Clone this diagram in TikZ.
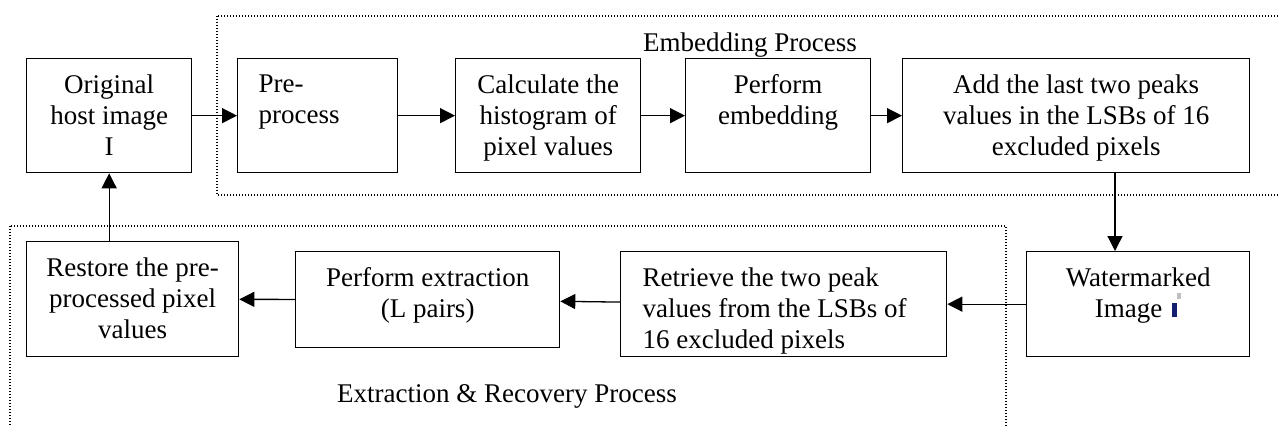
\documentclass[tikz,border=0pt]{standalone}
\usepackage{fontspec}
\setmainfont{Liberation Serif}
\usepackage{xcolor}
\usetikzlibrary{arrows.meta}

\definecolor{imgblue}{RGB}{20,30,110}
% text of a box: width, height, alignment, lines (top aligned)
\newcommand{\boxtxt}[4]{\parbox[c][#2][t]{#1}{#3\vspace*{8pt}#4}}

\begin{document}
\begin{tikzpicture}[x=0.5pt, y=-0.5pt,
        font=\fontsize{13.5}{15.5}\selectfont,
        box/.style={draw, line width=0.65pt, inner sep=0pt, anchor=north west},
        arr/.style={-{Triangle[length=7.5pt,width=7.5pt]}, line width=0.65pt},
        frame/.style={line width=0.6pt, dash pattern=on 0.6pt off 0.9pt}]
    \useasboundingbox (0,0) rectangle (1278,427);

    % embedding row
    \node[box] (orig) at (26,58) {\boxtxt{82.5pt}{57pt}{\centering}{Original\\host image\\I}};
    \node[box] (pre) at (237,58) {\boxtxt{80pt}{57pt}{\raggedright\leftskip=10.5pt}{Pre-\\process}};
    \node[box] (calc) at (455,58) {\boxtxt{92.5pt}{57pt}{\centering}{Calculate the\\histogram of\\pixel values}};
    \node[box] (perf) at (685,58) {\boxtxt{92.5pt}{57pt}{\centering}{Perform\\embedding}};
    \node[box] (add) at (902,58) {\boxtxt{173.5pt}{57pt}{\centering}{Add the last two peaks\\values in the LSBs of 16\\excluded pixels}};

    % extraction row
    \node[box] (wm) at (1026,251) {\boxtxt{111.5pt}{52.5pt}{\centering}{Watermarked\\Image\hspace{5pt}\textcolor{imgblue}{\rule{2.5pt}{7pt}}\raisebox{9pt}{\textcolor{gray!50}{\rule{2pt}{3pt}}}}};
    \node[box] (retr) at (620,251) {\boxtxt{163pt}{52.5pt}{\raggedright\leftskip=11pt}{Retrieve the two peak\\values from the LSBs of\\16 excluded pixels}};
    \node[box] (pext) at (295,251) {\boxtxt{132pt}{48pt}{\centering}{Perform extraction\\(L pairs)}};
    \node[box] (rest) at (26,241) {\boxtxt{106pt}{57.5pt}{\centering}{Restore the pre-\\processed pixel\\values}};

    % process frames
    \draw[frame] (217,16) rectangle (1290,195);
    \draw[frame] (10,226) rectangle (1006,440);
    \node[anchor=base] (embtitle) at (750,52) {Embedding Process};
    \node[anchor=base] (exttitle) at (507,402) {Extraction \& Recovery Process};

    \foreach \a/\b in {orig/pre, pre/calc, calc/perf, perf/add, wm/retr, retr/pext, pext/rest}
    {
        \draw[arr] (\a) -- (\b);
    }
    \coordinate (drop) at (1115,0);
    \draw[arr] (add.south -| drop) -- (wm.north -| drop);
    \draw[arr] (rest.north -| orig.south) -- (orig.south);
\end{tikzpicture}
\end{document}
